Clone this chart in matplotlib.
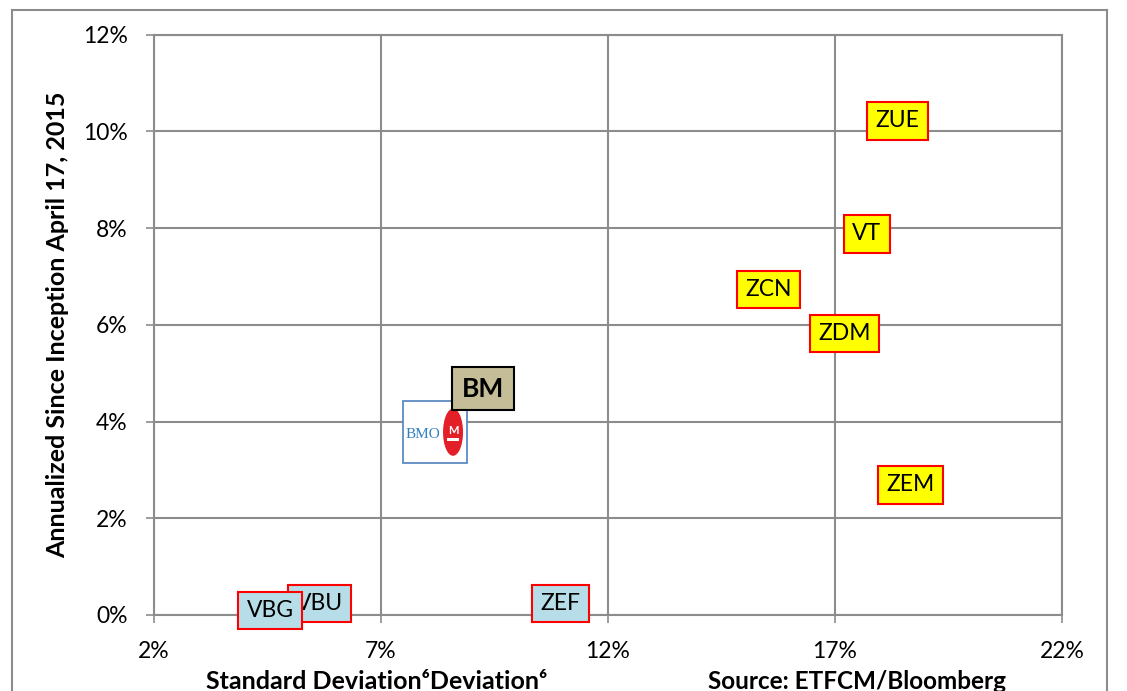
import numpy as np
import matplotlib
matplotlib.use("Agg")
import matplotlib.pyplot as plt
from matplotlib.patches import Rectangle, Ellipse
from matplotlib.offsetbox import DrawingArea, AnnotationBbox
from matplotlib.lines import Line2D

plt.rcParams['font.family'] = ['Lato', 'DejaVu Sans']

# equity ETFs (yellow labels)
equityNames = ['ZUE', 'VT', 'ZCN', 'ZDM', 'ZEM']
equityStd = [18.38, 17.70, 15.54, 17.22, 18.67]
equityRet = [10.22, 7.88, 6.73, 5.82, 2.69]

# bond ETFs (blue labels)
bondNames = ['ZEF', 'VBU', 'VBG']
bondStd = [10.96, 5.65, 4.56]
bondRet = [0.24, 0.24, 0.09]

# BMO fund
bmName = 'BM'
bmStd = 9.25
bmRet = 4.68
logoStd = 8.19
logoRet = 3.78

xTicks = [2, 7, 12, 17, 22]
yTicks = [0, 2, 4, 6, 8, 10, 12]

gridGray = '#8C8C8C'

fig = plt.figure(figsize=(11.27, 6.91), dpi=100)
ax = fig.add_axes([0.1366, 0.110, 0.8057, 0.8398])

ax.set_xlim(2, 22)
ax.set_ylim(0, 12)
ax.set_xticks(xTicks)
ax.set_yticks(yTicks)
ax.set_xticklabels(['%d%%' % v for v in xTicks])
ax.set_yticklabels(['%d%%' % v for v in yTicks])
ax.grid(True, color=gridGray, linewidth=1.5)
ax.set_axisbelow(True)
for s in ax.spines.values():
    s.set_color(gridGray)
    s.set_linewidth(1.5)
ax.tick_params(axis='both', direction='out', length=6, width=1.2, color=gridGray,
               labelsize=16.5, pad=13, labelcolor='black')

ax.set_ylabel('Annualized Since Inception April 17, 2015', fontsize=18,
              fontweight='bold', labelpad=10)

# data labels for the ETFs
for name, x, y in zip(equityNames, equityStd, equityRet):
    ax.text(x, y, name, ha='center', va='center', fontsize=16.5, zorder=5,
            bbox=dict(boxstyle='square,pad=0.36', fc='#FFFF00', ec='#FF0000', lw=1.5))
for name, x, y in zip(bondNames, bondStd, bondRet):
    ax.text(x, y, name, ha='center', va='center', fontsize=16.5, zorder=5,
            bbox=dict(boxstyle='square,pad=0.36', fc='#B7DEE8', ec='#FF0000', lw=1.5))

# BMO logo box
da = DrawingArea(46, 45, 0, 0)
da.add_artist(matplotlib.text.Text(14, 21, 'BMO', ha='center', va='center',
                                   fontsize=11, color='#2F7FC1',
                                   family='Liberation Serif'))
da.add_artist(Ellipse((36, 22.5), 14.4, 34, fc='#E32028', ec='none'))
da.add_artist(matplotlib.text.Text(36, 24, 'M', ha='center', va='center',
                                   fontsize=8, color='white', fontweight='bold'))
da.add_artist(Rectangle((31.5, 16), 9, 2, fc='white', ec='none'))
ab = AnnotationBbox(da, (logoStd, logoRet), frameon=True, pad=0, box_alignment=(0.5, 0.5),
                    bboxprops=dict(ec='#4F81BD', fc='white', lw=1.2), zorder=4)
ax.add_artist(ab)

ax.text(bmStd, bmRet, bmName, ha='center', va='center', fontsize=19, fontweight='bold',
        zorder=6, bbox=dict(boxstyle='square,pad=0.36', fc='#C4BD97', ec='black', lw=1.5))

# axis captions at the bottom (cut off by the image edge)
fig.text(377 / 1127, 1 - 670 / 691, 'Standard Deviation\u2076Deviation\u2076', ha='center',
         va='top', fontsize=18, fontweight='bold')
fig.text(857 / 1127, 1 - 670 / 691, 'Source: ETFCM/Bloomberg', ha='center',
         va='top', fontsize=17.5, fontweight='bold')

# outer chart frame
for xs, ys in [([12, 12], [10, 700]), ([12, 1107], [10, 10]), ([1107, 1107], [10, 700])]:
    fig.add_artist(Line2D([v / 1127 for v in xs], [1 - v / 691 for v in ys],
                          color=gridGray, lw=1.5))

fig.savefig('out.png', dpi=100)
